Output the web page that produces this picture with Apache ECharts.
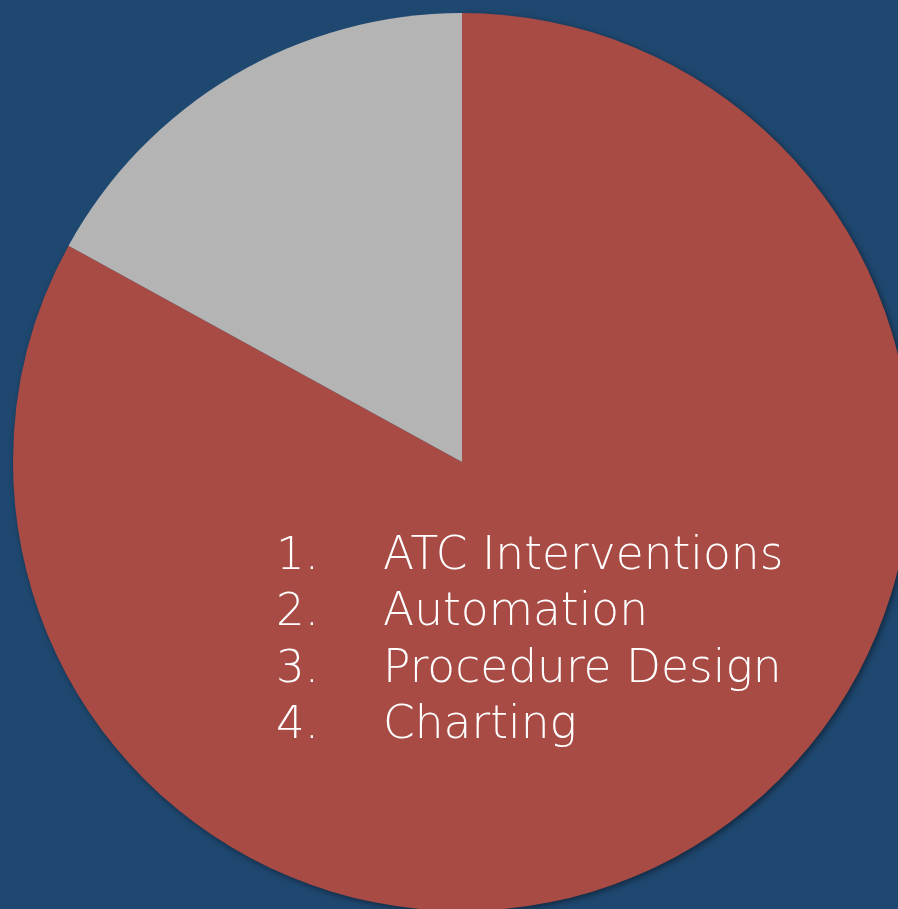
<!DOCTYPE html>
<html>
<head>
<meta charset="utf-8">
<script src="https://cdn.jsdelivr.net/npm/echarts@6/dist/echarts.min.js"></script>
<style>
html,body{margin:0;padding:0;background:#1F4870;}
#chart{width:898px;height:909px;}
</style>
</head>
<body>
<div id="chart"></div>
<script>
var sliceNames = ['Red', 'Gray'];
var sliceValues = [83, 17];
var sliceColors = ['#A84B45', '#B4B4B4'];
var listNumbers = ['1.', '2.', '3.', '4.'];
var listItems = ['ATC Interventions', 'Automation', 'Procedure Design', 'Charting'];

var chart = echarts.init(document.getElementById('chart'));
var graphics = [];
var fontFam = '"DejaVu Sans", "Open Sans", sans-serif';
listItems.forEach(function (t, i) {
  var y = 557 + i * 56.5;
  graphics.push({
    type: 'text', x: 276, y: y, z: 100, silent: true,
    style: { text: listNumbers[i], fill: '#FFFFFF', fontSize: 45, fontFamily: fontFam, fontWeight: 200, verticalAlign: 'middle', textAlign: 'left' }
  });
  graphics.push({
    type: 'text', x: 383, y: y, z: 100, silent: true,
    style: { text: t, fill: '#FFFFFF', fontSize: 45.5, fontFamily: fontFam, fontWeight: 200, verticalAlign: 'middle', textAlign: 'left' }
  });
});

chart.setOption({
  backgroundColor: '#1F4870',
  animation: false,
  series: [{
    type: 'pie',
    z: 2,
    center: [462, 462],
    radius: [0, 449],
    startAngle: 90,
    clockwise: true,
    label: { show: false },
    labelLine: { show: false },
    emphasis: { disabled: true },
    data: sliceNames.map(function (n, i) {
      var st = { color: sliceColors[i] };
      if (i === 0) {
        st.shadowBlur = 6; st.shadowOffsetX = 2; st.shadowOffsetY = 2; st.shadowColor = 'rgba(0,0,0,0.45)';
      }
      return { name: n, value: sliceValues[i], itemStyle: st };
    })
  }],
  graphic: { elements: graphics }
});
</script>
</body>
</html>
